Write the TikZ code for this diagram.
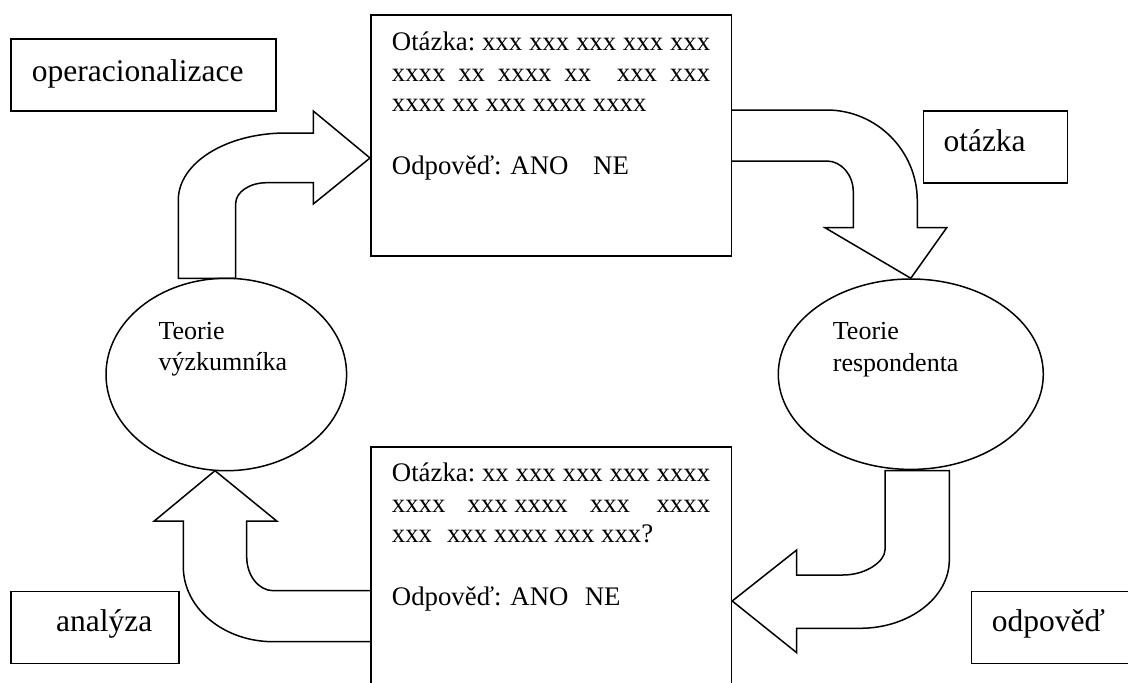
\documentclass[tikz,border=0pt]{standalone}
\usepackage{fontspec}
\setmainfont{Liberation Serif}
\usetikzlibrary{shapes.geometric}
\begin{document}
\begin{tikzpicture}[x=1pt,y=-1pt,
  ln/.style={line width=1.5pt, line join=miter},
  boxnode/.style={draw, ln, rectangle, inner sep=0pt, anchor=north west},
  ovalnode/.style={draw, ln, ellipse, inner sep=0pt},
  lbl/.style={font=\fontsize{31.5}{36}\selectfont, anchor=base west, inner sep=0pt},
  body/.style={font=\fontsize{26.8}{31}\selectfont, anchor=base west, inner sep=0pt},
  ovaltext/.style={font=\fontsize{26}{31}\selectfont, anchor=base west, inner sep=0pt}]
\useasboundingbox (0,0) rectangle (1128,683);
\clip (0,0) rectangle (1128,683);

% label boxes
\node[boxnode, minimum width=265pt, minimum height=71.7pt] (opbox) at (10,38.3) {};
\node[lbl] (optext) at (31.7,81) {operacionalizace};
\node[boxnode, minimum width=144pt, minimum height=72pt] (otbox) at (922.7,110.3) {};
\node[lbl] (ottext) at (943.3,151.7) {otázka};
\node[boxnode, minimum width=168.3pt, minimum height=72pt] (anbox) at (10,590.7) {};
\node[lbl] (antext) at (56,631.7) {analýza};
\node[boxnode, minimum width=170pt, minimum height=72pt] (odbox) at (970.7,590.7) {};
\node[lbl] (odtext) at (991.7,631) {odpověď};

% question boxes
\node[boxnode, minimum width=360.7pt, minimum height=241pt] (qtop) at (370,14) {};
\node[body] (t1) at (391.7,50.5) {\makebox[318.3pt][l]{Otázka:\hfill xxx\hfill xxx\hfill xxx\hfill xxx\hfill xxx}};
\node[body] (t2) at (391.7,81.5) {\makebox[318.3pt][l]{xxxx\hfill xx\hfill xxxx\hfill xx\hfill\hfill xxx\hfill xxx}};
\node[body] (t3) at (391.7,111.5) {xxxx xx xxx xxxx xxxx};
\node[body] (t4) at (391.7,174.5) {Odpověď: ANO\hspace{24.7pt}NE};

\node[boxnode, minimum width=360.7pt, minimum height=260pt] (qbot) at (370,446) {};
\node[body] (b1) at (391.7,481.5) {\makebox[318.3pt][l]{Otázka:\hfill xx\hfill xxx\hfill xxx\hfill xxx\hfill xxxx}};
\node[body] (b2) at (391.7,512) {\makebox[318.3pt][l]{xxxx\hspace{22pt}xxx\hspace{6.6pt}xxxx\hspace{22pt}xxx\hfill xxxx}};
\node[body] (b3) at (391.7,542) {xxx\hspace{15pt}xxx xxxx xxx xxx?};
\node[body] (b4) at (391.7,605.5) {Odpověď: ANO\hspace{16.3pt}NE};

% ellipses
\node[ovalnode, minimum width=240.6pt, minimum height=192.4pt] (tv) at (226.3,374.5) {};
\node[ovaltext] (tv1) at (158.3,339.3) {Teorie};
\node[ovaltext] (tv2) at (158.3,370) {výzkumníka};
\node[ovalnode, minimum width=265pt, minimum height=190.4pt] (tr) at (910.8,374.2) {};
\node[ovaltext] (tr1) at (832.7,339.3) {Teorie};
\node[ovaltext] (tr2) at (832.7,371.7) {respondenta};

% block arrow: operacionalizace
\draw[ln] (178.3,278.3) -- (178.3,200) .. controls (178.3,163) and (226,133) .. (286,133)
  -- (313.3,133) -- (313.3,111) -- (qtop.west |- 0,158) -- (313.3,204) -- (313.3,182.7)
  -- (266.7,182.7) .. controls (249.6,182.7) and (235.7,192) .. (235.7,203.5)
  -- (235.7,278.3) -- cycle;

% block arrow: otázka
\draw[ln] (qtop.east |- 0,110) -- (826.7,110) .. controls (876.7,110) and (917.3,150.8) .. (917.3,201)
  -- (917.3,227.7) -- (946.7,227.7) -- (tr.north) -- (825,227.7) -- (853.3,227.7)
  -- (853.3,192) .. controls (853.3,174.9) and (841.4,161) .. (826.7,161) -- (qtop.east |- 0,161);

% block arrow: odpověď
\draw[ln] (885,470.7) -- (949.3,470.7) -- (949.3,560) .. controls (949.3,597.5) and (909.3,628.3) .. (860,628.3)
  -- (796.7,628.3) -- (796.7,652.7) -- (qbot.east |- 0,601) -- (796.7,550) -- (796.7,575)
  -- (843,575) .. controls (866.2,575) and (885,561.2) .. (885,550) -- cycle;

% block arrow: analýza
\draw[ln] (qbot.west |- 0,641.7) -- (273.3,641.7) .. controls (223.6,641.7) and (183.3,608.1) .. (183.3,566.7)
  -- (183.3,521) -- (154.3,521) -- (215,470.7) -- (276.7,521) -- (246.7,521)
  -- (246.7,556.7) .. controls (246.7,575.5) and (258.6,590.7) .. (273.3,590.7) -- (qbot.west |- 0,590.7);
\end{tikzpicture}
\end{document}
